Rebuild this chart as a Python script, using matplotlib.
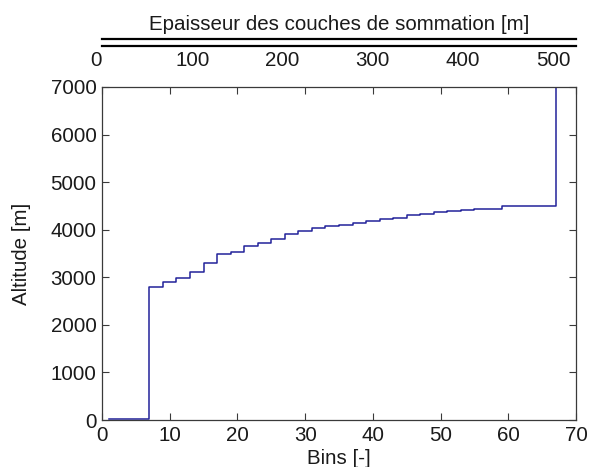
import numpy as np
import matplotlib
matplotlib.use("Agg")
import matplotlib.pyplot as plt

plt.rcParams['font.family'] = ['Liberation Sans', 'DejaVu Sans']

# bin edges and summed-layer altitude per bin group
bin_edges = [1, 7, 9, 11, 13, 15, 17, 19, 21, 23, 25, 27, 29, 31, 33, 35, 37,
             39, 41, 43, 45, 47, 49, 51, 53, 55, 57, 59, 67]
altitude = [20, 2795, 2900, 2995, 3120, 3300, 3497, 3535, 3660, 3725, 3815,
            3912, 3970, 4043, 4082, 4093, 4135, 4183, 4218, 4246, 4309, 4337,
            4362, 4386, 4415, 4429, 4443, 4490]
top_altitude = 7000

bin_ticks = [0, 10, 20, 30, 40, 50, 60, 70]
alt_ticks = [0, 1000, 2000, 3000, 4000, 5000, 6000, 7000]
thick_ticks = [0, 100, 200, 300, 400, 500]
bin_width_m = 7.5

W, H = 594, 467
fig = plt.figure(figsize=(W / 100, H / 100), dpi=100)
fs = 14.8
spine_col = '#3a3a3a'

ax = fig.add_axes([102 / W, 1 - 420 / H, 474 / W, 333 / H])
ax.step(bin_edges, altitude + [top_altitude], where='post', color='#22229a', lw=1.1)
ax.set_xlim(0, 70)
ax.set_ylim(0, 7000)
ax.set_xticks(bin_ticks)
ax.set_yticks(alt_ticks)
ax.tick_params(direction='in', length=5, width=0.8, colors=spine_col,
               labelcolor='#1a1a1a', labelsize=fs, top=True, right=True, pad=4)
for s in ax.spines.values():
    s.set_color(spine_col)
    s.set_linewidth(0.9)
ax.set_xlabel('Bins [-]', fontsize=fs, color='#1a1a1a', labelpad=3)
ax.set_ylabel('Altitude [m]', fontsize=fs, color='#1a1a1a', labelpad=14)

# secondary scale: layer thickness in metres, drawn as a double rule
ax2 = fig.add_axes([102 / W, 1 - 45.5 / H, 474 / W, 7 / H])
ax2.set_xlim(0, 70 * bin_width_m)
ax2.set_xticks(thick_ticks)
ax2.set_yticks([])
ax2.patch.set_alpha(0)
for side in ['left', 'right']:
    ax2.spines[side].set_visible(False)
for side in ['top', 'bottom']:
    ax2.spines[side].set_color('black')
    ax2.spines[side].set_linewidth(1.6)
ax2.tick_params(axis='x', length=0, labelsize=fs, labelcolor='#1a1a1a', pad=4)
ax2.get_xticklabels()[0].set_horizontalalignment('right')
ax2.set_title('Epaisseur des couches de sommation [m]', fontsize=fs,
              color='#1a1a1a', pad=6)

fig.savefig('out.png', dpi=100)
